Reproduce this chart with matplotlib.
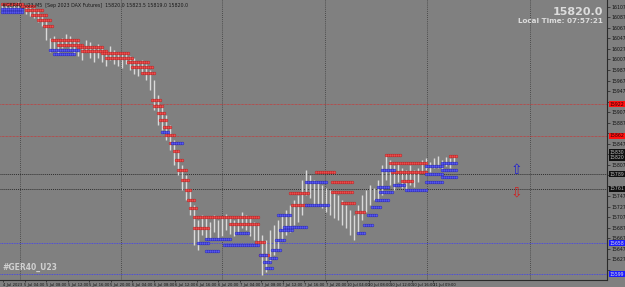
import numpy as np
import matplotlib
matplotlib.use("Agg")
import matplotlib.pyplot as plt

# ---------------- data ----------------
bar_high = [16112,16110,16114,16112,16116,
            16114,16110,16109,16105,16101,16093,
            16082,
            16048,16052,16044,16048,16055,16052,
            16044,16040,16036,16044,16040,16033,16036,
            16029,16025,16033,16025,16021,16017,16021,16014,
            16010,16002,16006,15998,15987,
            15968,15940,15921,15902,
            15883,15854,15835,15807,15788,15759,
            15731,15702,
            15712,15706,15698,15712,15702,15706,15713,15706,15702,15710,15717,15712,15706,15698,15693,
            15674,15664,15683,
            15693,15702,15712,15721,15731,15740,15750,
            15778,
            15797,15788,15778,
            15774,15769,15763,15759,15755,15750,15740,15731,
            15721,15712,15731,
            15750,15759,15769,15763,15778,
            15807,15826,
            15816,15807,15812,15801,15797,15807,15797,15801,
            15816,15820,15812,15820,15824,15816,15822,15820,15824]
bar_low = [16101,16099,16103,16101,16103,
           16097,16093,16090,16086,16078,16071,
           16044,
           16021,16025,16017,16029,16033,16025,
           16017,16014,16006,16021,16010,16002,16010,
           16002,15995,16006,15998,15995,15991,15998,15987,
           15979,15976,15983,15968,15949,
           15911,15883,15873,15854,
           15835,15807,15788,15759,15740,15712,
           15655,15645,
           15674,15668,15664,15679,15668,15672,15683,15675,15672,15679,15687,15683,15672,15664,15655,
           15598,15603,15622,
           15636,15645,15664,15674,15679,15693,15698,
           15712,
           15750,15744,15731,
           15731,15725,15717,15712,15706,15702,15693,15687,
           15674,15664,15679,
           15702,15717,15731,15740,15740,
           15750,15778,
           15769,15759,15774,15763,15759,15769,15765,15774,
           15793,15797,15793,15801,15801,15797,15805,15801,15812]

# resistance (red) and support (blue) level segments: (start bar, end bar, price)
red_levels = [(0,5,16112),(5,8,16109),(6,10,16101),(7.5,11,16092),(9,12,16082),(10.5,12.5,16071),
              (12.5,19,16044),(14,20,16034),(19,25,16031),(20,26,16023),(25,31.5,16019),(26,32.5,16010),
              (31.5,36.5,16002),(32.5,37.5,15993),(35,38,15981),
              (37.5,39.5,15930),(38,40,15919),(39,40.5,15905),(39.5,41,15892),(40.5,42,15879),(41,43,15864),
              (42,43.5,15848),(43,44,15833),(43.5,45,15816),(44,46,15797),(45,46.5,15778),(46,47,15759),
              (46.5,48,15740),(47,48.5,15725),
              (48,64,15708),(48,51.5,15687),(57,64,15694),(63.5,65.5,15660),(64.5,66.5,15635),
              (72,76.5,15753),(72.5,76.5,15730),(78.5,83,15793),(82.5,87.5,15774),(82.5,87.5,15755),
              (85,88,15734),(88.5,90.5,15717),
              (96,99.5,15826),(97,106,15810),(97.5,106,15793),(100,102.5,15776),(112,113.5,15824)]
blue_levels = [(0,5,16103),(0,5,16097),(12,19,16025),(13,18,16017),
               (40,41.5,15869),(42.5,45,15848),
               (49,51.5,15658),(51,54,15643),(51,57,15666),(55.5,64,15655),(58.5,61.5,15677),
               (64.5,66,15635),(65.5,67,15622),(66,67.5,15611),(67,68.5,15630),(67.5,69.5,15645),
               (68.5,70.5,15664),(69.5,72.5,15683),(70.5,76,15689),(69,72,15712),
               (76,81,15774),(76,81.5,15731),
               (89,90.5,15677),(90.5,92.5,15693),(91.5,93.5,15712),(92.5,94.5,15727),(93.5,96.5,15740),
               (94.5,97.5,15755),(95,98,15797),(94,96.5,15765),(98,100.5,15769),(101,106,15759),
               (106,110,15805),(110,113.5,15810),(106,110,15789),(110,113.5,15797),(106,110,15774),(110,113.5,15784)]

red_lines = [15922, 15862]
dark_lines = [15789, 15761]
blue_lines = [15658, 15599]
bid, ask = 15820, 15830
grid_bars = [4.5, 29.75, 55, 80.75, 106.25, 132]
x_labels = ["4 Jul 2023","5 Jul 04:00","5 Jul 08:00","5 Jul 12:00","5 Jul 16:00","5 Jul 20:00",
            "6 Jul 04:00","6 Jul 08:00","6 Jul 12:00","6 Jul 16:00","6 Jul 20:00",
            "7 Jul 04:00","7 Jul 08:00","7 Jul 12:00","7 Jul 16:00","7 Jul 20:00",
            "10 Jul 04:00","10 Jul 08:00","10 Jul 12:00","10 Jul 16:00","11 Jul 09:00"]
y_ticks = list(range(15607, 16120, 20))

# ---------------- figure ----------------
BG = "#808080"
fig = plt.figure(figsize=(6.25, 2.87), dpi=100, facecolor=BG)
ax = fig.add_axes([0.0, 0.0244, 0.9712, 0.9756], facecolor=BG)
ax.set_xlim(-0.5, 151.25)
ax.set_ylim(15588, 16120)

for s in ["top", "left"]:
    ax.spines[s].set_visible(False)
for s in ["right", "bottom"]:
    ax.spines[s].set_color("#2a2a2a")
    ax.spines[s].set_linewidth(0.8)

for gx in grid_bars:
    ax.axvline(gx, color="#3a3a3a", lw=0.6, ls=(0, (1, 1.5)), zorder=1)
for p in red_lines:
    ax.axhline(p, color="#e02020", lw=0.5, ls=(0, (1, 1)), zorder=1)
for p in dark_lines:
    ax.axhline(p, color="#2e2e2e", lw=0.7, ls=(0, (1, 1)), zorder=1)
for p in blue_lines:
    ax.axhline(p, color="#3a3aff", lw=0.6, ls=(0, (1, 1)), zorder=1)

idx = np.arange(len(bar_high))
ax.vlines(idx, bar_low, bar_high, color="#dadada", lw=1.0, zorder=2)

def draw_levels(levels, face, edge):
    for b0, b1, p in levels:
        xs = np.arange(b0, b1 + 0.01, 0.5)
        ax.plot(xs, [p] * len(xs), ls="none", marker="o", ms=2.0,
                mfc=face, mec=edge, mew=0.35, zorder=3)

draw_levels(red_levels, "#f05050", "#b82020")
draw_levels(blue_levels, "#5c5cf5", "#2525b5")

# arrows
ax.text(128.5, 15797, "\u21e7", color="#2020d0", fontsize=10, ha="center", va="center", zorder=4)
ax.text(128.5, 15755, "\u21e9", color="#d02020", fontsize=10, ha="center", va="center", zorder=4)

# axes ticks (labels hidden under price boxes are skipped)
box_prices = red_lines + dark_lines + blue_lines + [bid, ask]
ax.yaxis.tick_right()
ax.set_yticks(y_ticks)
ax.set_yticklabels(["" if min(abs(v - b) for b in box_prices) < 9 else str(v) for v in y_ticks],
                   fontsize=3.3, color="#111111")
ax.tick_params(axis="y", length=2, width=0.5, pad=1.0, color="#222222")
xt = [(3 + 21.5 * k - 2) / 4 for k in range(len(x_labels))]
ax.set_xticks(xt)
ax.set_xticklabels(x_labels, fontsize=2.7, color="#111111", ha="left")
ax.tick_params(axis="x", length=1.5, width=0.5, pad=0.4, color="#222222")

# price boxes on right axis
def price_box(p, face, txtcol):
    ax.text(1.004, p, f"{p}", transform=ax.get_yaxis_transform(), fontsize=3.3,
            color=txtcol, va="center", ha="left",
            bbox=dict(boxstyle="square,pad=0.15", fc=face, ec="none"), zorder=6, clip_on=False)

for p in red_lines:
    price_box(p, "#ff1010", "#300000")
for p in dark_lines:
    price_box(p, "#101010", "#bbbbbb")
for p in blue_lines:
    price_box(p, "#1a1aff", "#dddddd")
price_box(ask, "#101010", "#bbbbbb")
price_box(bid, "#101010", "#bbbbbb")

# texts
ax.text(0.004, 0.993, "#GER40_U23,M5  [Sep 2023 DAX Futures]  15820.0 15823.5 15819.0 15820.0",
        transform=ax.transAxes, fontsize=3.4, color="#1a1a1a", va="top", ha="left", zorder=7)
ax.text(0.994, 0.975, "15820.0", transform=ax.transAxes, fontsize=8, fontweight="bold",
        color="#dcdcdc", va="top", ha="right", zorder=7)
ax.text(0.994, 0.935, "Local Time: 07:57:21", transform=ax.transAxes, fontsize=5.2,
        fontweight="bold", color="#dcdcdc", va="top", ha="right", zorder=7)
ax.text(0.004, 0.03, "#GER40_U23", transform=ax.transAxes, fontsize=5.5, fontweight="bold",
        color="#d0d0d0", va="bottom", ha="left", zorder=7)

fig.savefig("out.png", dpi=100, facecolor=BG)
